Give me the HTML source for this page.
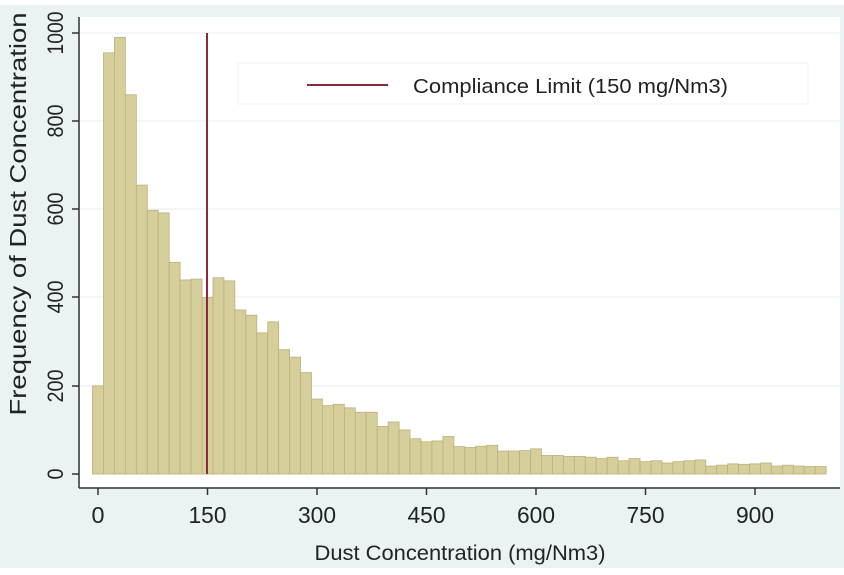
<!DOCTYPE html>
<html><head><meta charset="utf-8"><style>
html,body{margin:0;padding:0;background:#fff;}
svg{display:block;font-family:"Liberation Sans",Arial,sans-serif;}
</style></head><body>
<svg id="s" width="844" height="575" viewBox="0 0 844 575" xmlns="http://www.w3.org/2000/svg">
<rect x="0" y="5" width="844" height="563" fill="#eaf2f4"/>
<rect x="80" y="17" width="760" height="470" fill="#ffffff"/>
<g stroke="#e8eef0" stroke-width="1">
<line x1="80" x2="840" y1="33" y2="33"/>
<line x1="80" x2="840" y1="121" y2="121"/>
<line x1="80" x2="840" y1="209" y2="209"/>
<line x1="80" x2="840" y1="297" y2="297"/>
<line x1="80" x2="840" y1="386" y2="386"/>
</g>
<g id="bars" fill="#d6cf9c" stroke="#b9b27c" stroke-width="0.8"></g>
<line x1="207" x2="207" y1="33" y2="474" stroke="#8b2a3c" stroke-width="2"/>
<rect x="238" y="63" width="570" height="41" fill="#fff" stroke="#eef2f3"/>
<line x1="307" x2="388" y1="85" y2="85" stroke="#8b2a3c" stroke-width="2"/>
<text x="413" y="93" font-size="20" fill="#222" textLength="315" lengthAdjust="spacingAndGlyphs">Compliance Limit (150 mg/Nm3)</text>
<g stroke="#333" stroke-width="1.5" fill="none">
<line x1="79" y1="17" x2="79" y2="488"/>
<line x1="79" y1="488" x2="840" y2="488"/>
</g>
<g stroke="#333" stroke-width="1.5">
<line x1="72" x2="79" y1="33" y2="33"/><line x1="72" x2="79" y1="121" y2="121"/><line x1="72" x2="79" y1="209" y2="209"/><line x1="72" x2="79" y1="297" y2="297"/><line x1="72" x2="79" y1="386" y2="386"/><line x1="72" x2="79" y1="474" y2="474"/>
<line x1="98" x2="98" y1="488" y2="495"/><line x1="207.5" x2="207.5" y1="488" y2="495"/><line x1="317" x2="317" y1="488" y2="495"/><line x1="426.5" x2="426.5" y1="488" y2="495"/><line x1="536" x2="536" y1="488" y2="495"/><line x1="645.5" x2="645.5" y1="488" y2="495"/><line x1="755" x2="755" y1="488" y2="495"/>
</g>
<g font-size="22" fill="#222" text-anchor="middle">
<text transform="translate(63,33) rotate(-90)" textLength="43" lengthAdjust="spacingAndGlyphs">1000</text>
<text transform="translate(63,121) rotate(-90)" textLength="33" lengthAdjust="spacingAndGlyphs">800</text>
<text transform="translate(63,209) rotate(-90)" textLength="33" lengthAdjust="spacingAndGlyphs">600</text>
<text transform="translate(63,297) rotate(-90)" textLength="33" lengthAdjust="spacingAndGlyphs">400</text>
<text transform="translate(63,386) rotate(-90)" textLength="33" lengthAdjust="spacingAndGlyphs">200</text>
<text transform="translate(63,474) rotate(-90)" textLength="11" lengthAdjust="spacingAndGlyphs">0</text>
</g>
<g font-size="23" fill="#222" text-anchor="middle">
<text x="98" y="523" textLength="13" lengthAdjust="spacingAndGlyphs">0</text>
<text x="207.5" y="523" textLength="38" lengthAdjust="spacingAndGlyphs">150</text>
<text x="317" y="523" textLength="38" lengthAdjust="spacingAndGlyphs">300</text>
<text x="426.5" y="523" textLength="38" lengthAdjust="spacingAndGlyphs">450</text>
<text x="536" y="523" textLength="38" lengthAdjust="spacingAndGlyphs">600</text>
<text x="645.5" y="523" textLength="38" lengthAdjust="spacingAndGlyphs">750</text>
<text x="755" y="523" textLength="38" lengthAdjust="spacingAndGlyphs">900</text>
</g>
<text x="460" y="560" font-size="21" fill="#222" text-anchor="middle" textLength="291" lengthAdjust="spacingAndGlyphs">Dust Concentration (mg/Nm3)</text>
<text transform="translate(26,214) rotate(-90)" font-size="23" fill="#222" text-anchor="middle" textLength="403" lengthAdjust="spacingAndGlyphs">Frequency of Dust Concentration</text>
</svg>
<script>
var h=[200,955,990,860,655,598,592,480,440,442,400,445,438,372,360,320,345,282,265,230,170,155,158,150,140,140,108,118,100,80,73,75,85,62,60,63,65,52,52,53,57,42,42,40,40,38,35,38,30,35,28,30,25,28,30,32,18,20,23,22,23,25,18,20,18,17,17];
var g=document.getElementById('bars'),o='';
for(var i=0;i<h.length;i++){var x0=98+(i*15-7.5)*0.73,y=474-h[i]*0.441;
o+='<rect x="'+x0.toFixed(2)+'" y="'+y.toFixed(2)+'" width="10.95" height="'+(474-y).toFixed(2)+'"/>';}
g.innerHTML=o;
</script>
</body></html>
